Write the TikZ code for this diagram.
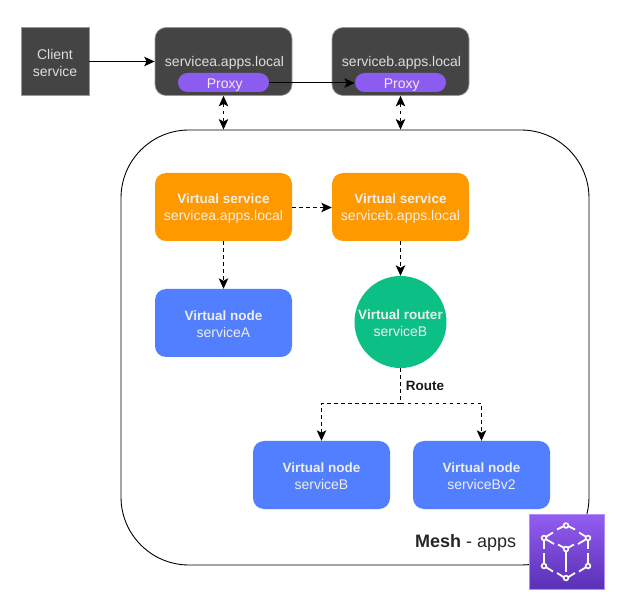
\documentclass[tikz,border=0pt]{standalone}
\usepackage{fontspec}
\setmainfont{Liberation Sans}
\usetikzlibrary{arrows.meta,positioning,calc}
\definecolor{darkbox}{HTML}{444444}
\definecolor{edgegray}{HTML}{999999}
\definecolor{lighttext}{HTML}{DDDDDD}
\definecolor{proxyc}{HTML}{8C5CF0}
\definecolor{orangec}{HTML}{FF9900}
\definecolor{bluec}{HTML}{527FFF}
\definecolor{greenc}{HTML}{0CC085}
\definecolor{softwhite}{HTML}{EEEEEE}
\definecolor{icontop}{HTML}{945DF2}
\definecolor{iconbot}{HTML}{5A30B5}
\newcommand{\topfix}{\rule{0pt}{12.5pt}}
\newcommand{\boldline}[1]{{\fontsize{13.5}{17}\selectfont\bfseries #1}}
\tikzset{
  x=1pt,y=-1pt,
  basebox/.style={inner sep=0pt,minimum width=137pt,minimum height=68pt,align=center,font=\fontsize{14}{17}\selectfont},
  darkrounded/.style={basebox,rounded corners=11pt,fill=darkbox,draw=edgegray,line width=.7pt,text=lighttext},
  clientbox/.style={basebox,minimum width=68pt,fill=darkbox,draw=edgegray,line width=.7pt,text=lighttext},
  proxypill/.style={inner sep=0pt,minimum width=91pt,minimum height=19pt,rounded corners=9.5pt,fill=proxyc,text=softwhite,font=\fontsize{14}{15}\selectfont},
  vservice/.style={basebox,rounded corners=11pt,fill=orangec,text=softwhite},
  vnode/.style={basebox,rounded corners=11pt,fill=bluec,text=softwhite},
  vrouter/.style={circle,inner sep=0pt,minimum size=92pt,fill=greenc,text=softwhite,align=center,font=\fontsize{14}{17}\selectfont},
  meshbox/.style={inner sep=0pt,minimum width=468pt,minimum height=435pt,rounded corners=68pt,draw=black,line width=.9pt},
  solidlink/.style={draw=black,line width=1pt,-{Stealth[length=10.5pt,width=9.5pt,inset=2.5pt]}},
  dashlink/.style={draw=black,line width=1pt,dash pattern=on 3.5pt off 3.5pt,-{Stealth[length=10.5pt,width=9.5pt,inset=2.5pt]}},
  dashboth/.style={dashlink,{Stealth[length=10.5pt,width=9.5pt,inset=2.5pt]}-{Stealth[length=10.5pt,width=9.5pt,inset=2.5pt]}},
  dashplain/.style={draw=black,line width=1pt,dash pattern=on 3.5pt off 3.5pt},
  cubeline/.style={draw=white,line width=1.8pt},
  cubedot/.style={draw=white,line width=1.6pt,fill=none},
}
\begin{document}
\begin{tikzpicture}
\useasboundingbox (0,0) rectangle (622,604);
\fill[white] (0,0) rectangle (622,604);
\node[meshbox] (mesh) at (355,347.5) {};
\node[clientbox] (client) at (55,61.5) {\topfix Client\\service};
\node[darkrounded] (sa) at (223.5,61.5) {};
\node[darkrounded] (sb) at (400.5,61.5) {};
\node[font=\fontsize{14}{15}\selectfont,text=lighttext,inner sep=0pt] (salabel) at (224.5,63) {servicea.apps.local};
\node[font=\fontsize{14}{15}\selectfont,text=lighttext,inner sep=0pt] (sblabel) at (401.5,63) {serviceb.apps.local};
\node[proxypill] (pa) at (223.5,82.5) {\rule{0pt}{14pt}\hspace*{2.5pt}Proxy};
\node[proxypill] (pb) at (400.5,82.5) {\rule{0pt}{14pt}\hspace*{2.5pt}Proxy};
\node[vservice] (va) at (223.5,207) {\topfix\boldline{Virtual service}\\servicea.apps.local};
\node[vservice] (vb) at (400.5,207) {\topfix\boldline{Virtual service}\\serviceb.apps.local};
\node[vnode] (na) at (223.5,323) {\topfix\boldline{Virtual node}\\serviceA};
\node[vrouter] (rt) at (400.5,322) {\topfix\boldline{Virtual router}\\serviceB};
\node[vnode] (nb) at (321.5,475) {\topfix\boldline{Virtual node}\\serviceB};
\node[vnode] (nc) at (481.5,475) {\topfix\boldline{Virtual node}\\serviceBv2};
\node[inner sep=0pt,font=\fontsize{13.5}{15}\selectfont\bfseries,text=black!90] (route) at (425,386) {Route};
\node[inner sep=0pt,anchor=west,font=\fontsize{18}{20}\selectfont,text=black!85] (meshlabel) at (415,543) {\textbf{Mesh} - apps};
\node[inner sep=0pt,minimum size=75pt,top color=icontop,bottom color=iconbot,draw=icontop!70!white,line width=.4pt] (icon) at (566.5,551.5) {};
% connectors
\draw[solidlink] (client.east) -- (sa.west);
\draw[solidlink] ([yshift=-.5pt]pa.east) -- ([yshift=-.5pt]pb.west);
\draw[dashboth] (sa.south) -- (sa.south |- mesh.north);
\draw[dashboth] (sb.south) -- (sb.south |- mesh.north);
\draw[dashlink] ([yshift=-.5pt]va.east) -- ([yshift=-.5pt]vb.west);
\draw[dashlink] (va.south) -- (na.north);
\draw[dashlink] (vb.south) -- (rt.north);
\coordinate (split) at (400.5,403.5);
\draw[dashplain] (rt.south) -- (split);
\draw[dashlink] (split) -| (nb.north);
\draw[dashlink] (split) -| (nc.north);
% icon glyph
\foreach \p in {(566,525.5),(544,538),(588,538),(566,549),(544,566),(588,566),(566,578)}
  \draw[cubedot] \p circle (2.4pt);
\draw[cubeline] (557,529.5)--(563,526.5) (569,526.5)--(575,529.5);
\draw[cubeline] (546.5,536.5)--(553,532.5) (579,532.5)--(585.5,536.5);
\draw[cubeline] (546.5,539.5)--(554,544) (563.5,547.5)--(558,544.5);
\draw[cubeline] (585.5,539.5)--(578,544) (568.5,547.5)--(574,544.5);
\draw[cubeline] (566,552)--(566,572);
\draw[cubeline] (544,541)--(544,549) (544,553)--(544,563);
\draw[cubeline] (588,541)--(588,549) (588,553)--(588,563);
\draw[cubeline] (546.5,567.5)--(553,571.5) (557,573)--(563.5,577);
\draw[cubeline] (585.5,567.5)--(579,571.5) (575,573)--(568.5,577);
\end{tikzpicture}
\end{document}
